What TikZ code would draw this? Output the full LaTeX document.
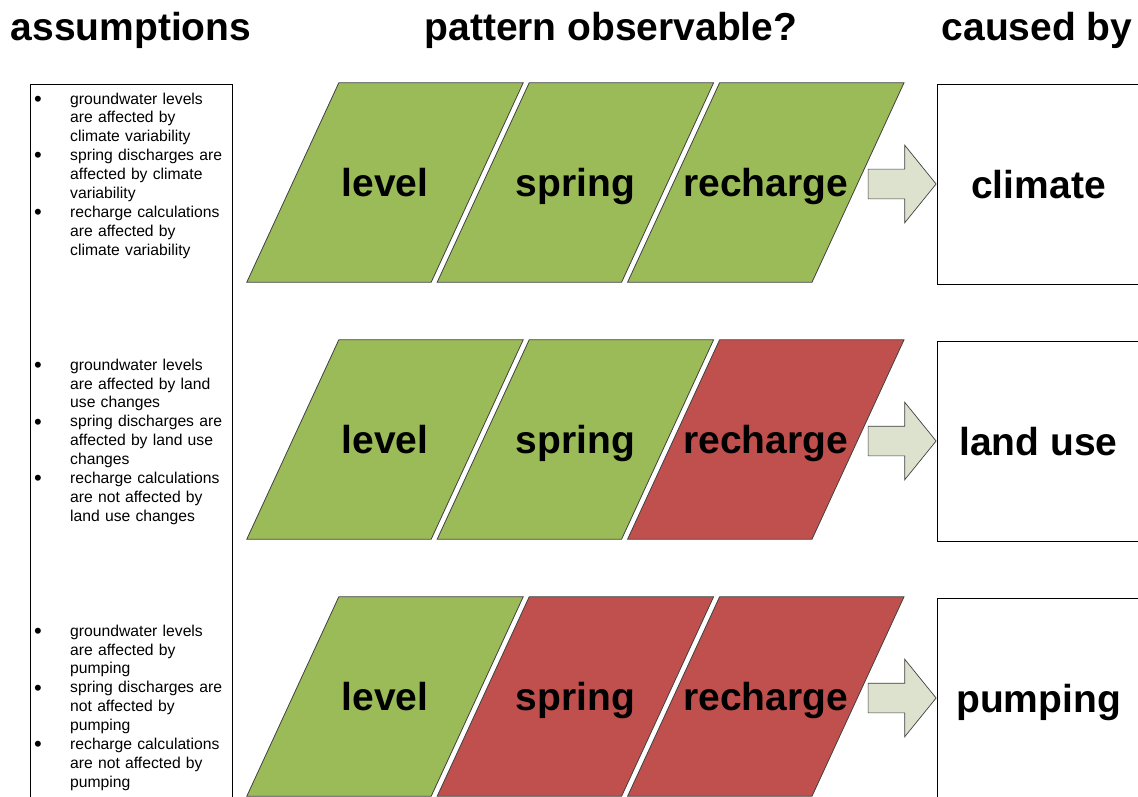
\documentclass[tikz,border=0pt]{standalone}
\usepackage{fontspec}
\setmainfont{Liberation Sans}
\usetikzlibrary{shapes.arrows, positioning, calc, backgrounds}
\definecolor{okgreen}{RGB}{155,187,89}
\definecolor{nored}{RGB}{192,80,77}
\definecolor{arrowfill}{RGB}{221,226,206}
\definecolor{edge}{RGB}{64,64,64}
\newcommand{\asmitem}[1]{\par\leavevmode\llap{\makebox[40pt][l]{\hspace{4pt}\raisebox{-2.2pt}{\fontsize{22}{0}\selectfont\textbullet}}}#1\par}
% parallelogram behind a cell node
\newcommand{\slantbox}[2]{\draw[#2] ($(#1.south west)+(-46,0)$) -- ($(#1.north west)+(46,0)$) -- ($(#1.north east)+(46,0)$) -- ($(#1.south east)+(-46,0)$) -- cycle;}

\begin{document}
\begin{tikzpicture}[
    x=1pt, y=-1pt,
    title/.style={font=\fontsize{39}{47}\selectfont\bfseries, anchor=base},
    cell/.style={rectangle, minimum width=184, minimum height=199, inner sep=0, font=\fontsize{39}{47}\selectfont\bfseries, text height=28pt, text depth=0pt},
    observed/.style={draw=edge, line width=0.8pt, fill=okgreen},
    absent/.style={draw=edge, line width=0.8pt, fill=nored},
    cause/.style={rectangle, draw, line width=0.9pt, minimum width=203, minimum height=200, inner sep=0, font=\fontsize{39}{47}\selectfont\bfseries, text height=28pt, text depth=0pt},
    blockarrow/.style={single arrow, draw=edge, fill=arrowfill, line width=0.7pt, single arrow head extend=24pt, single arrow tip angle=102, minimum height=68, inner sep=0, text height=14.5pt, text depth=14.5pt},
    asmtext/.style={anchor=north west, text width=200pt, align=left, inner sep=0, font=\fontsize{15.7}{18.9}\selectfont}
]
\useasboundingbox (0,0) rectangle (1138,797);

\node[title] (tasm) at (131,41) {assumptions};
\node[title] (tpat) at (611,41) {pattern observable?};
\node[title] (tcau) at (1037,41) {caused by};

\node[draw, line width=0.9pt, anchor=north west, minimum width=202, minimum height=740, inner sep=0] (frame) at (30,84) {};

\node[asmtext] (asm1) at (30,85) {\leftskip=40pt
  \asmitem{groundwater levels\\are affected by\\climate variability}
  \asmitem{spring discharges are\\affected by climate\\variability}
  \asmitem{recharge calculations\\are affected by\\climate variability}};
\node[asmtext] (asm2) at (30,351) {\leftskip=40pt
  \asmitem{groundwater levels\\are affected by land\\use changes}
  \asmitem{spring discharges are\\affected by land use\\changes}
  \asmitem{recharge calculations\\are not affected by\\land use changes}};
\node[asmtext] (asm3) at (30,617) {\leftskip=40pt
  \asmitem{groundwater levels\\are affected by\\pumping}
  \asmitem{spring discharges are\\not affected by\\pumping}
  \asmitem{recharge calculations\\are not affected by\\pumping}};

% climate
\node[cell] (lev1) at (385,182.5) {level};
\node[cell, right=6pt of lev1] (spr1) {spring};
\node[cell, right=6pt of spr1] (rec1) {recharge};
\node[cause] (cau1) at (1038.5,184) {climate};
\node[blockarrow, anchor=tip] (arr1) at (cau1.west) {};

% land use
\node[cell] (lev2) at (385,439.5) {level};
\node[cell, right=6pt of lev2] (spr2) {spring};
\node[cell, right=6pt of spr2] (rec2) {recharge};
\node[cause] (cau2) at (1038.5,441) {land use};
\node[blockarrow, anchor=tip] (arr2) at (cau2.west) {};

% pumping
\node[cell] (lev3) at (385,696.5) {level};
\node[cell, right=6pt of lev3] (spr3) {spring};
\node[cell, right=6pt of spr3] (rec3) {recharge};
\node[cause] (cau3) at (1038.5,698) {pumping};
\node[blockarrow, anchor=tip] (arr3) at (cau3.west) {};

\begin{pgfonlayer}{background}
  \slantbox{lev1}{observed} \slantbox{spr1}{observed} \slantbox{rec1}{observed}
  \slantbox{lev2}{observed} \slantbox{spr2}{observed} \slantbox{rec2}{absent}
  \slantbox{lev3}{observed} \slantbox{spr3}{absent}   \slantbox{rec3}{absent}
\end{pgfonlayer}

\end{tikzpicture}
\end{document}
